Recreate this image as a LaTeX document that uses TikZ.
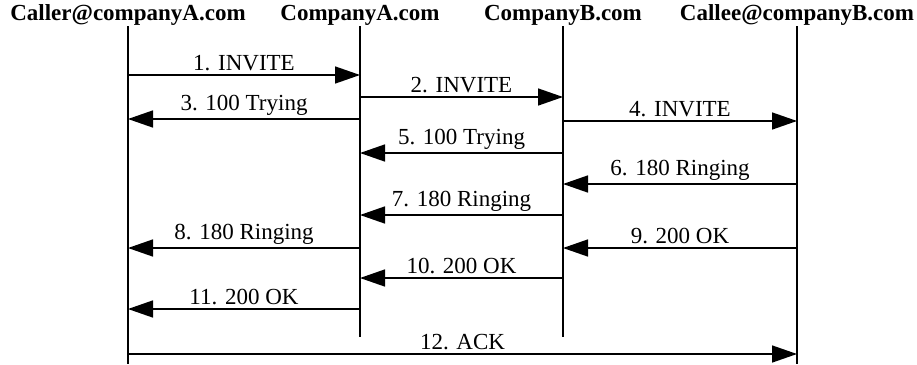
\documentclass[tikz,border=0pt]{standalone}
\usepackage{fontspec}
\setmainfont{Liberation Serif}
\usetikzlibrary{arrows.meta}

\tikzset{
  head/.style={font=\fontsize{23}{25}\selectfont\bfseries, anchor=base, inner sep=0pt},
  life/.style={line width=1.5pt},
  msg/.style={line width=1.5pt, -{Triangle[length=25pt,width=17pt]}},
  lbl/.style={midway, above, inner sep=3pt, font=\fontsize{23}{25}\selectfont}
}

% one message between two lifelines at height y
\newcommand{\sipmsg}[4]{\draw[msg] (#1 |- 0,#3) -- (#2 |- 0,#3) node[lbl] {#4};}

\begin{document}
\begin{tikzpicture}[x=1pt,y=-1pt]
\useasboundingbox (0,0) rectangle (917,364);

% participants
\node[head] (hCaller) at (128,20) {Caller@companyA.com};
\node[head] (hA)      at (360,20) {CompanyA.com};
\node[head] (hB)      at (563,20) {CompanyB.com};
\node[head] (hCallee) at (797,20) {Callee@companyB.com};

% lifelines
\coordinate (caller) at (128,26);
\coordinate (pA)     at (360,26);
\coordinate (pB)     at (563,26);
\coordinate (callee) at (797,26);
\coordinate (callerEnd) at (128,364);
\coordinate (pAEnd)     at (360,337);
\coordinate (pBEnd)     at (563,337);
\coordinate (calleeEnd) at (797,364);
\draw[life] (caller) -- (callerEnd);
\draw[life] (pA) -- (pAEnd);
\draw[life] (pB) -- (pBEnd);
\draw[life] (callee) -- (calleeEnd);

% call setup
\sipmsg{caller}{pA}{75}{1. INVITE}
\sipmsg{pA}{pB}{97}{2. INVITE}
\sipmsg{pA}{caller}{119}{3. 100 Trying}
\sipmsg{pB}{callee}{121}{4. INVITE}
\sipmsg{pB}{pA}{153}{5. 100 Trying}
\sipmsg{callee}{pB}{184}{6. 180 Ringing}
\sipmsg{pB}{pA}{215}{7. 180 Ringing}
\sipmsg{pA}{caller}{248}{8. 180 Ringing}
\sipmsg{callee}{pB}{248}{9. 200 OK}
\sipmsg{pB}{pA}{278}{10. 200 OK}
\sipmsg{pA}{caller}{309}{11. 200 OK}
\sipmsg{caller}{callee}{354}{12. ACK}
\end{tikzpicture}
\end{document}
